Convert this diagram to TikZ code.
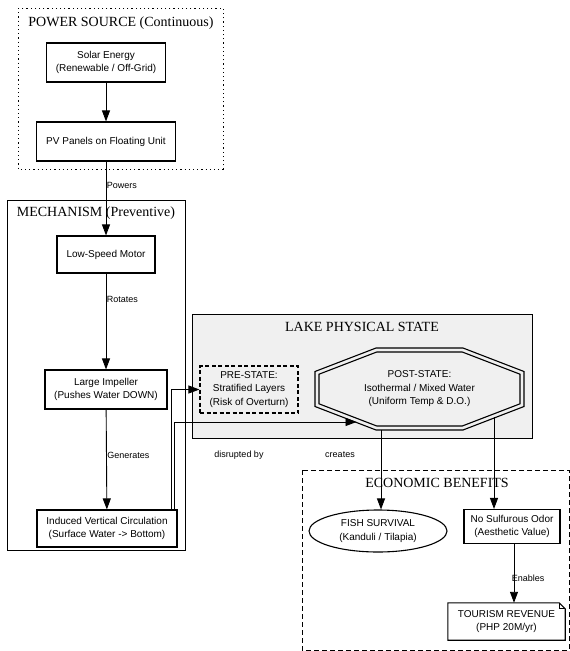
\documentclass[tikz,border=0pt]{standalone}
\usepackage{fontspec}
\newfontfamily\lsans{Liberation Sans}
\newfontfamily\lserif{Liberation Serif}
\usetikzlibrary{arrows.meta,shapes.geometric,calc}
\definecolor{lakegray}{RGB}{240,240,240}
\tikzset{
  box/.style={draw, line width=1.1pt, align=center, inner sep=0pt, font=\lsans\fontsize{10}{13.5}\selectfont},
  plain/.style={align=center, inner sep=0pt, font=\lsans\fontsize{10}{13.5}\selectfont},
  ttl/.style={font=\lserif\fontsize{14}{16}\selectfont, inner sep=0pt},
  elabel/.style={font=\lsans\fontsize{9}{11}\selectfont, inner sep=0.5pt},
  edge/.style={line width=0.9pt, -{Triangle[length=11pt,width=8pt]}},
  cluster/.style={line width=0.8pt},
}
\begin{document}
\begin{tikzpicture}[x=1pt,y=-1pt]
\useasboundingbox (0,0) rectangle (570,651);
% clusters
\draw[cluster, dash pattern=on 1.2pt off 3pt] (18,8) rectangle (223,169);
\node[ttl] (tpower) at (121,23) {POWER SOURCE (Continuous)};
\draw[cluster] (7,200) rectangle (185,550);
\node[ttl] (tmech) at (96,213) {MECHANISM (Preventive)};
\draw[cluster, fill=lakegray] (192,314) rectangle (532,438);
\node[ttl] (tlake) at (362,327) {LAKE PHYSICAL STATE};
\draw[cluster, dash pattern=on 5pt off 3pt] (302,470) rectangle (569,650);
\node[ttl] (tecon) at (437,483) {ECONOMIC BENEFITS};
% nodes
\node[box, minimum width=119, minimum height=39] (solar) at (106,62.5) {Solar Energy\\(Renewable / Off-Grid)};
\node[box, minimum width=139, minimum height=39] (pv) at (106,141.5) {PV Panels on Floating Unit};
\node[box, minimum width=98, minimum height=37] (motor) at (106,254.5) {Low-Speed Motor};
\node[box, minimum width=122, minimum height=39] (impeller) at (106,389.5) {Large Impeller\\(Pushes Water DOWN)};
\node[box, minimum width=140, minimum height=37] (induced) at (107,528.5) {Induced Vertical Circulation\\(Surface Water -> Bottom)};
\node[box, dash pattern=on 4pt off 2.5pt, minimum width=98, minimum height=47] (pre) at (249,389.5) {PRE-STATE:\\Stratified Layers\\(Risk of Overturn)};
\node[plain] (post) at (419.5,389) {POST-STATE:\\Isothermal / Mixed Water\\(Uniform Temp \& D.O.)};
\begin{scope}[shift={(post.center)}, line width=1.1pt]
  \draw (-43.5,-41) -- (43.5,-41) -- (104.5,-17.5) -- (104.5,17.5) -- (43.5,41) -- (-43.5,41) -- (-104.5,17.5) -- (-104.5,-17.5) -- cycle;
  \draw (-42.75,-37) -- (42.75,-37) -- (100.5,-14.8) -- (100.5,14.8) -- (42.75,37) -- (-42.75,37) -- (-100.5,14.8) -- (-100.5,-14.8) -- cycle;
\end{scope}
\node[box, ellipse, minimum width=138, minimum height=42] (fish) at (378,531) {FISH SURVIVAL\\(Kanduli / Tilapia)};
\node[box, minimum width=96, minimum height=34] (odor) at (512,526.5) {No Sulfurous Odor\\(Aesthetic Value)};
\node[plain, minimum width=117, minimum height=37] (tourism) at (506.5,621.5) {TOURISM REVENUE\\(PHP 20M/yr)};
\draw[line width=1.1pt] (tourism.south west) -- (tourism.north west) -- ($(tourism.north east)+(-6,0)$) -- ($(tourism.north east)+(0,6)$) -- (tourism.south east) -- cycle;
\draw[line width=0.8pt] ($(tourism.north east)+(-6,0)$) -- ($(tourism.north east)+(-6,6)$) -- ($(tourism.north east)+(0,6)$);
% connector points
\coordinate (postin) at (356.5,422);
\coordinate (postb1) at (381,430);
\coordinate (postb2) at (494,417);
% edges
\draw[edge] (solar) -- (pv);
\draw[edge] (pv) -- node[elabel, anchor=west, pos=0.32] {Powers} (motor);
\draw[edge] (motor) -- node[elabel, anchor=west, pos=0.27] {Rotates} (impeller);
\draw[edge] (impeller) -- node[elabel, anchor=west, pos=0.455] {Generates} (induced);
\draw[edge] ([xshift=64pt]induced.north) |- (pre.west);
\draw[edge] ([xshift=67pt]induced.north) |- (postin);
\node[elabel] (ldisrupt) at (239,455) {disrupted by};
\node[elabel] (lcreates) at (340,455) {creates};
\draw[edge] (postb1) -- (postb1 |- fish.north);
\draw[edge] (postb2) -- (postb2 |- odor.north);
\draw[edge] ([xshift=2pt]odor.south) -- node[elabel, anchor=west, pos=0.58, xshift=-3pt] {Enables} ([xshift=2pt]odor.south |- tourism.north);
\end{tikzpicture}
\end{document}
